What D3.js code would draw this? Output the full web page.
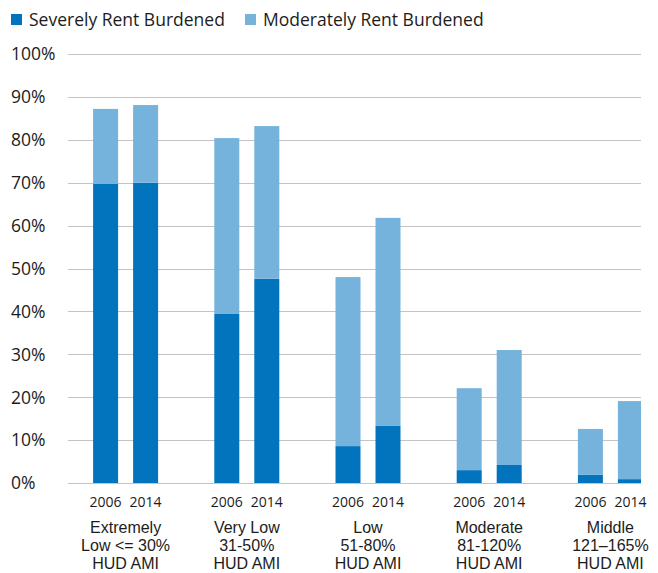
<!DOCTYPE html>
<html lang="en">
<head>
    <meta charset="UTF-8">
    <script src="https://cdn.jsdelivr.net/npm/d3@7"></script>
    <title>Rent Burden by Income</title>
    <style>
        body { margin: 0; background: #fff; }
        svg text { font-family: 'Open Sans', sans-serif; fill: #1c1c1c; }
        svg text.cat { font-family: 'Liberation Sans', Arial, sans-serif; }
        .grid line { stroke: #c4c4c4; stroke-width: 1px; }
    </style>
</head>
<body>
    <div id="chart"></div>
    <script>
        // Data
        const groups = ["Extremely Low", "Very Low", "Low", "Moderate", "Middle"];
        const groupLabels = [
            ["Extremely", "Low <= 30%", "HUD AMI"],
            ["Very Low", "31-50%", "HUD AMI"],
            ["Low", "51-80%", "HUD AMI"],
            ["Moderate", "81-120%", "HUD AMI"],
            ["Middle", "121–165%", "HUD AMI"]
        ];
        const years = ["2006", "2014"];
        // severely burdened share (%) per group, [2006, 2014]
        const severe = [[69.7, 70.0], [39.4, 47.6], [8.6, 13.3], [3.0, 4.2], [1.9, 0.9]];
        // moderately burdened share (%) per group, [2006, 2014]
        const moderate = [[17.5, 18.1], [41.0, 35.6], [39.4, 48.5], [19.1, 26.8], [10.7, 18.2]];
        const yTicks = [0, 10, 20, 30, 40, 50, 60, 70, 80, 90, 100];
        const seriesNames = ["Severely Rent Burdened", "Moderately Rent Burdened"];
        const colors = ["#0174bd", "#75b3dd"];

        const width = 658, height = 573;
        const plotLeft = 68, plotRight = 641;

        const svg = d3.select("#chart").append("svg")
            .attr("width", width)
            .attr("height", height);

        const y = d3.scaleLinear().domain([0, 100]).range([483, 54]);
        const x0 = d3.scaleBand().domain(groups).range([65, 671]);
        const x1 = d3.scaleBand().domain(years).range([-32.5, 32.5]).paddingInner(0.375);

        // gridlines
        const grid = svg.append("g").attr("class", "grid");
        grid.selectAll("line")
            .data(yTicks)
            .enter()
            .append("line")
            .attr("x1", plotLeft)
            .attr("x2", plotRight)
            .attr("y1", d => Math.round(y(d)) + 0.5)
            .attr("y2", d => Math.round(y(d)) + 0.5);

        // y tick labels (left aligned)
        svg.append("g").selectAll("text")
            .data(yTicks)
            .enter()
            .append("text")
            .attr("x", 11)
            .attr("y", d => y(d))
            .attr("dy", "0.36em")
            .style("font-size", "17.5px")
            .text(d => d + "%");

        // clip the bars to the plot area
        svg.append("clipPath").attr("id", "plotClip")
            .append("rect")
            .attr("x", plotLeft).attr("y", 0)
            .attr("width", plotRight - plotLeft).attr("height", height);

        const rows = [];
        groups.forEach((g, i) => {
            years.forEach((yr, j) => {
                rows.push({ group: g, year: yr, severe: severe[i][j], moderate: moderate[i][j] });
            });
        });

        const stack = d3.stack().keys(["severe", "moderate"]);
        const layers = stack(rows);

        const bars = svg.append("g").attr("clip-path", "url(#plotClip)");
        bars.selectAll("g")
            .data(layers)
            .enter()
            .append("g")
            .attr("fill", (d, i) => colors[i])
            .selectAll("rect")
            .data(d => d)
            .enter()
            .append("rect")
            .attr("x", d => x0(d.data.group) + x0.bandwidth() / 2 + x1(d.data.year))
            .attr("width", x1.bandwidth())
            .attr("y", d => y(d[1]))
            .attr("height", d => y(d[0]) - y(d[1]));

        // year labels
        svg.append("g").selectAll("text")
            .data(rows)
            .enter()
            .append("text")
            .attr("x", d => x0(d.group) + x0.bandwidth() / 2 + x1(d.year) + x1.bandwidth() / 2)
            .attr("y", 507)
            .attr("text-anchor", "middle")
            .style("font-size", "14px")
            .text(d => d.year);

        // group labels, one text per line
        const labelLines = [];
        groups.forEach((g, i) => {
            groupLabels[i].forEach((line, k) => labelLines.push({ group: g, line: line, k: k }));
        });
        svg.append("g").selectAll("text")
            .data(labelLines)
            .enter()
            .append("text")
            .attr("class", "cat")
            .attr("text-anchor", "middle")
            .attr("x", d => x0(d.group) + x0.bandwidth() / 2)
            .attr("y", d => 533 + d.k * 18)
            .style("font-size", "16px")
            .text(d => d.line);

        // legend
        const legendX = [11, 245];
        const legend = svg.append("g").selectAll("g")
            .data(seriesNames)
            .enter()
            .append("g")
            .attr("transform", (d, i) => `translate(${legendX[i]},14)`);
        legend.append("rect")
            .attr("width", 11)
            .attr("height", 11)
            .attr("fill", (d, i) => colors[i]);
        legend.append("text")
            .attr("x", 18)
            .attr("y", 12)
            .style("font-size", "17.5px")
            .text(d => d);
    </script>
</body>
</html>
